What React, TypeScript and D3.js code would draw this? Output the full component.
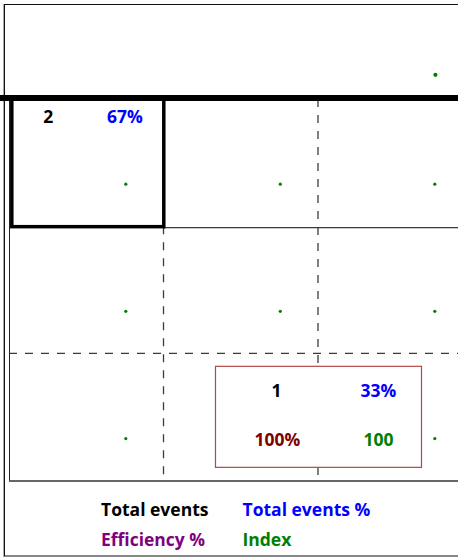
import React from "react";
import * as d3 from "d3";

const W = 458;
const H = 557;

// grid categories
const colKeys = [0, 1, 2];
const rowKeys = [0, 1, 2];

// cell values (row, col)
const cellRows = [0];
const cellCols = [0];
const cellTotals = [2];
const cellTotalPcts = ["67%"];

// index points (in cell units)
const pointCols = [0, 1, 2, 0, 1, 2, 0, 1, 2];
const pointRows = [0, 0, 0, 1, 1, 1, 2, 2, 2];
const extraPointCol = [2.76];
const extraPointRow = [-0.19];

// tooltip values
const tipTotal = ["1"];
const tipTotalPct = ["33%"];
const tipEfficiency = ["100%"];
const tipIndex = ["100"];

// legend
const legendLabels = ["Total events", "Total events %", "Efficiency %", "Index"];
const legendColors = ["#000000", "#0000ff", "#800080", "#008000"];

const FONT = "'Open Sans', sans-serif";

export default function App() {
  const x = d3.scaleLinear().domain([0, 3]).range([9, 472.5]);
  const y = d3.scaleLinear().domain([0, 3]).range([99, 480.5]);
  const dash = "8,8";
  const lineColor = "#3a3a3a";
  const fs = 17.5;

  return (
    <svg
      width={W}
      height={H}
      style={{ position: "absolute", left: 0, top: 0, background: "#fff" }}
      fontFamily={FONT}
    >
      {/* outer border */}
      <line x1={3.5} x2={3.5} y1={4} y2={557} stroke="#aaa" />
      <rect x={4.5} y={4.5} width={520} height={551.5} fill="none" stroke="#111" />

      {/* plot left & bottom */}
      <line x1={x(0) + 0.5} x2={x(0) + 0.5} y1={y(0)} y2={y(3)} stroke="#222" />
      <line x1={x(0)} x2={W} y1={y(3) + 0.5} y2={y(3) + 0.5} stroke="#333" strokeWidth={1.5} />

      {/* horizontal grid */}
      <line x1={x(1)} x2={W} y1={y(1) + 1.5} y2={y(1) + 1.5} stroke={lineColor} strokeWidth={1.3} />
      <line x1={x(0)} x2={W} y1={y(2)} y2={y(2)} stroke={lineColor} strokeWidth={1.3} strokeDasharray={dash} />

      {/* vertical grid */}
      <line x1={x(1)} x2={x(1)} y1={y(1)} y2={y(3)} stroke={lineColor} strokeWidth={1.3} strokeDasharray={dash} />
      <line x1={x(2)} x2={x(2)} y1={y(0)} y2={y(3)} stroke={lineColor} strokeWidth={1.3} strokeDasharray={dash} />

      {/* thick top line */}
      <line x1={0} x2={W} y1={y(0) - 1} y2={y(0) - 1} stroke="#000" strokeWidth={6} />

      {/* highlighted cell */}
      {cellRows.map((r, i) => (
        <rect
          key={"hl" + i}
          x={x(cellCols[i]) + 2.8}
          y={y(r)}
          width={x(cellCols[i] + 1) - x(cellCols[i]) - 2.5}
          height={y(r + 1) - y(r) + 0.5}
          fill="none"
          stroke="#000"
          strokeWidth={3.5}
        />
      ))}

      {/* cell values */}
      {cellRows.map((r, i) => {
        const cx = x(cellCols[i]);
        const cw = x(cellCols[i] + 1) - cx;
        const by = y(r) + 24;
        return (
          <g key={"cv" + i} fontWeight="bold" fontSize={fs} textAnchor="middle">
            <text x={cx + cw * 0.254} y={by} fill="#000">{cellTotals[i]}</text>
            <text x={cx + cw * 0.75} y={by} fill="#0000ff">{cellTotalPcts[i]}</text>
          </g>
        );
      })}

      {/* index points */}
      {pointCols.map((c, i) => (
        <circle key={"p" + i} cx={x(c + 0.756)} cy={y(pointRows[i] + 0.67)} r={1.6} fill="#008000" />
      ))}
      {extraPointCol.map((c, i) => (
        <circle key={"e" + i} cx={x(c)} cy={y(extraPointRow[i])} r={2.1} fill="#008000" />
      ))}

      {/* tooltip */}
      {tipTotal.map((t, i) => {
        const tx = x(2) - 102.5;
        const ty = y(2) + 13;
        return (
          <g key={"tip" + i}>
            <rect x={tx} y={ty} width={206} height={101} fill="#fff" stroke="#b04848" strokeWidth={1.2} />
            <g fontWeight="bold" fontSize={fs} textAnchor="middle">
              <text x={tx + 61} y={ty + 31} fill="#000">{t}</text>
              <text x={tx + 163} y={ty + 31} fill="#0000ff">{tipTotalPct[i]}</text>
              <text x={tx + 62} y={ty + 80} fill="#800000">{tipEfficiency[i]}</text>
              <text x={tx + 163} y={ty + 80} fill="#008000">{tipIndex[i]}</text>
            </g>
          </g>
        );
      })}

      {/* legend */}
      <g fontWeight="bold" fontSize={fs}>
        {legendLabels.map((l, i) => (
          <text key={l} x={i % 2 === 0 ? 101 : 242.5} y={i < 2 ? 516 : 546} fill={legendColors[i]}>
            {l}
          </text>
        ))}
      </g>
    </svg>
  );
}
